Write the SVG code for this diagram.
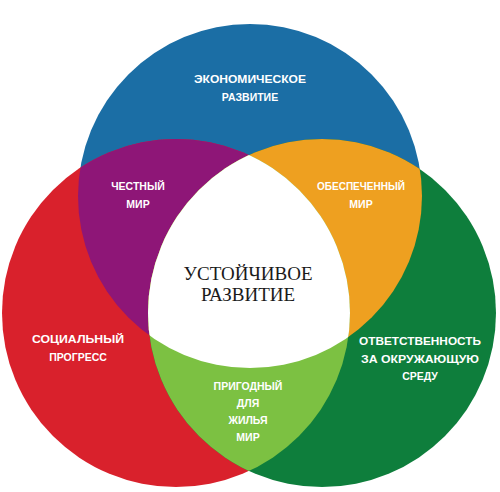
<svg xmlns="http://www.w3.org/2000/svg" width="500" height="492" viewBox="0 0 500 492">
<style>
.lbl{font-family:"Liberation Sans","DejaVu Sans",sans-serif;font-weight:bold;font-size:10.5px;fill:#ffffff;text-anchor:middle}
.ctr{font-family:"Liberation Serif","DejaVu Serif",serif;font-size:19px;fill:#1a1a1a;text-anchor:middle}
</style>
<defs>
<clipPath id="cBlue"><circle cx="250" cy="196" r="172"/></clipPath>
<clipPath id="cRed"><circle cx="176" cy="313" r="174"/></clipPath>
<clipPath id="cGreen"><circle cx="322" cy="313" r="174"/></clipPath>
</defs>
<rect width="500" height="492" fill="#ffffff"/>
<g id="economic">
<circle cx="250" cy="196" r="172" fill="#1b6ea5"/>
<text class="lbl" x="250" y="83" textLength="112" lengthAdjust="spacingAndGlyphs">ЭКОНОМИЧЕСКОЕ</text>
<text class="lbl" x="250" y="101">РАЗВИТИЕ</text>
</g>
<g id="social">
<circle cx="176" cy="313" r="174" fill="#d9212c"/>
<text class="lbl" x="78" y="343" textLength="92" lengthAdjust="spacingAndGlyphs">СОЦИАЛЬНЫЙ</text>
<text class="lbl" x="78" y="361">ПРОГРЕСС</text>
</g>
<g id="environment">
<circle cx="322" cy="313" r="174" fill="#0e7e3c"/>
<text class="lbl" x="420" y="345" textLength="122" lengthAdjust="spacingAndGlyphs">ОТВЕТСТВЕННОСТЬ</text>
<text class="lbl" x="420" y="363" textLength="118" lengthAdjust="spacingAndGlyphs">ЗА ОКРУЖАЮЩУЮ</text>
<text class="lbl" x="420" y="380">СРЕДУ</text>
</g>
<g id="equitable">
<g clip-path="url(#cBlue)"><circle cx="176" cy="313" r="174" fill="#8e1677"/></g>
<text class="lbl" x="138" y="190">ЧЕСТНЫЙ</text>
<text class="lbl" x="138" y="208">МИР</text>
</g>
<g id="viable">
<g clip-path="url(#cBlue)"><circle cx="322" cy="313" r="174" fill="#eea020"/></g>
<text class="lbl" x="361" y="190" textLength="88" lengthAdjust="spacingAndGlyphs">ОБЕСПЕЧЕННЫЙ</text>
<text class="lbl" x="361" y="208">МИР</text>
</g>
<g id="bearable">
<g clip-path="url(#cRed)"><circle cx="322" cy="313" r="174" fill="#7cc142"/></g>
<text class="lbl" x="248" y="390">ПРИГОДНЫЙ</text>
<text class="lbl" x="248" y="407">ДЛЯ</text>
<text class="lbl" x="248" y="424">ЖИЛЬЯ</text>
<text class="lbl" x="248" y="441">МИР</text>
</g>
<g id="sustainable">
<g clip-path="url(#cBlue)"><g clip-path="url(#cRed)"><circle cx="322" cy="313" r="174" fill="#ffffff"/></g></g>
<text class="ctr" x="248" y="280">УСТОЙЧИВОЕ</text>
<text class="ctr" x="248" y="301">РАЗВИТИЕ</text>
</g>
<g id="connectors"/>
</svg>
